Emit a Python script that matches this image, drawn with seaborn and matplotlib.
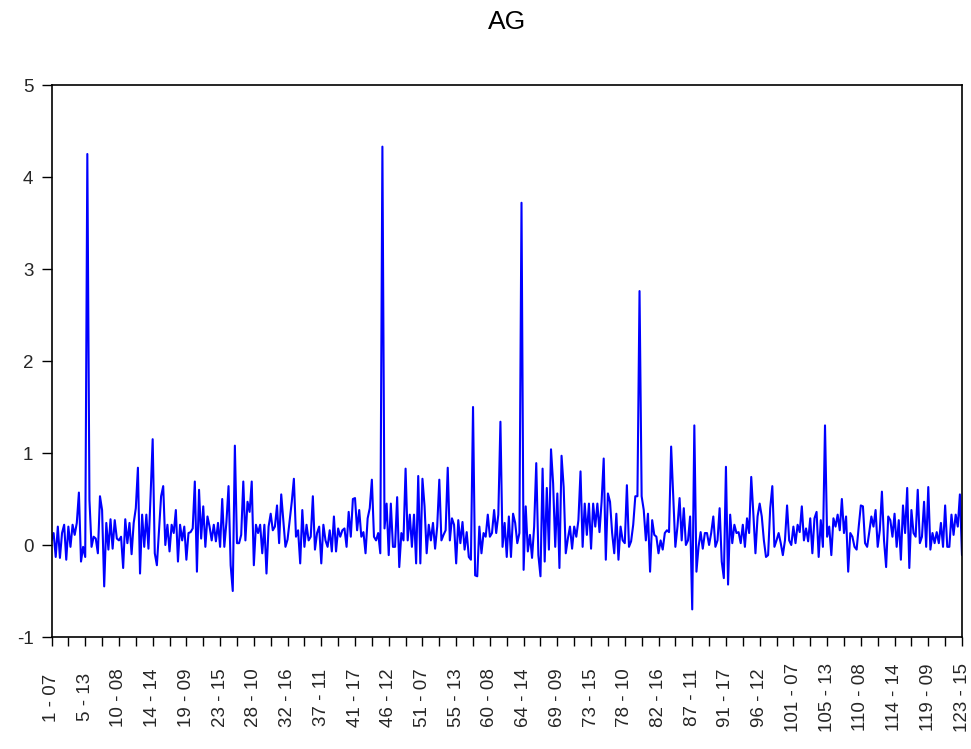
import numpy as np
import pandas as pd
import matplotlib
matplotlib.use("Agg")
import matplotlib.pyplot as plt
import seaborn as sns

title = "AG"

tick_labels = ["1 - 07", "5 - 13", "10 - 08", "14 - 14", "19 - 09", "23 - 15", "28 - 10",
               "32 - 16", "37 - 11", "41 - 17", "46 - 12", "51 - 07", "55 - 13", "60 - 08",
               "64 - 14", "69 - 09", "73 - 15", "78 - 10", "82 - 16", "87 - 11", "91 - 17",
               "96 - 12", "101 - 07", "105 - 13", "110 - 08", "114 - 14", "119 - 09", "123 - 15"]

seg1 = [0.05, 0.13, -0.13, 0.2, -0.14, 0.13, 0.22, -0.16, 0.2, -0.02,
        0.22, 0.11, 0.24, 0.57, -0.18, -0.02, -0.13, 4.25, 0.49, -0.02,
        0.09, 0.07, -0.09, 0.53, 0.38, -0.45, 0.24, -0.05, 0.28, -0.04,
        0.27, 0.07, 0.05, 0.09, -0.25, 0.28, 0.02, 0.24, -0.1, 0.24,
        0.4, 0.84, -0.31, 0.33, -0.02, 0.33, -0.04, 0.53, 1.15, -0.09,
        -0.22, 0.16, 0.53, 0.64, 0.0, 0.22, -0.07, 0.22, 0.13, 0.38,
        -0.18, 0.22, 0.05, 0.2, -0.16, 0.13, 0.14, 0.18, 0.69, -0.29,
        0.6, 0.07, 0.42, -0.02, 0.31, 0.2, 0.05, 0.22, 0.04, 0.24,
        -0.02, 0.5, -0.02, 0.25, 0.64, -0.22, -0.5, 1.08, 0.02, 0.02,
        0.11, 0.69, 0.05, 0.47, 0.36, 0.69, -0.22, 0.22, 0.13, 0.22,
        -0.09, 0.22, -0.31, 0.2, 0.34, 0.16, 0.2, 0.43, 0.02]

seg2 = [0.55, 0.27, -0.02, 0.06, 0.27, 0.47, 0.72, 0.09, 0.16, -0.2,
        0.38, -0.02, 0.22, 0.05, 0.09, 0.53, -0.05, 0.13, 0.2, -0.2,
        0.22, 0.05, -0.02, 0.16, -0.07, 0.31, -0.07, 0.18, 0.09, 0.16,
        0.18, -0.02, 0.36, 0.09, 0.5, 0.51, 0.16, 0.38, 0.09, 0.14,
        -0.09, 0.29, 0.4, 0.71, 0.09, 0.05, 0.13, -0.09, 4.33, 0.18,
        0.45, -0.11, 0.45, -0.02, -0.02, 0.52, -0.24, 0.13, 0.05, 0.83,
        0.05, 0.33, -0.02, 0.33, -0.2, 0.75, -0.2, 0.72, 0.42, -0.09,
        0.22, 0.05, 0.24, -0.04, 0.2, 0.71, 0.05, 0.11, 0.16, 0.84,
        0.05, 0.29, 0.22, -0.2, 0.27, 0.02, 0.25, -0.05, 0.14, -0.13,
        -0.16, 1.5, -0.33, -0.34, 0.2, -0.09, 0.13, 0.09, 0.33, 0.09,
        0.13, 0.38, 0.13, 0.33, 1.34, -0.02, 0.24, -0.13, 0.31, -0.13,
        0.34]

seg3 = [0.24, 0.02, 0.13, 3.72, -0.27, 0.42, -0.07, 0.11, -0.14, 0.2,
        0.89, -0.11, -0.34, 0.83, -0.18, 0.62, -0.05, 1.04, 0.67, -0.02,
        0.56, -0.25, 0.97, 0.63, -0.09, 0.07, 0.2, -0.04, 0.2, 0.09,
        0.27, 0.8, -0.02, 0.45, 0.11, 0.45, -0.04, 0.45, 0.2, 0.45,
        0.14, 0.47, 0.94, -0.16, 0.56, 0.47, 0.13, -0.09, 0.34, -0.16,
        0.2, 0.05, 0.02, 0.65, -0.02, 0.04, 0.22, 0.53, 0.53, 2.76,
        0.53, 0.38, 0.05, 0.34, -0.29, 0.27, 0.11, 0.09, -0.09, 0.05,
        -0.05, 0.13, 0.16, 0.14, 1.07, 0.53, -0.02, 0.2, 0.51, 0.05,
        0.4, 0.0, 0.05, 0.31, -0.7, 1.3, -0.29, -0.02, 0.14, -0.04,
        0.13, 0.13, 0.0, 0.13, 0.31, -0.02, 0.05, 0.4, -0.18, -0.36,
        0.85, -0.43, 0.33, 0.02, 0.22, 0.13, 0.14, 0.02, 0.22]

seg4 = [-0.02, 0.29, 0.13, 0.74, 0.34, -0.09, 0.31, 0.45, 0.31, 0.05,
        -0.13, -0.11, 0.4, 0.64, -0.02, 0.05, 0.13, 0.02, -0.11, 0.05,
        0.43, 0.05, 0.0, 0.2, 0.02, 0.22, 0.14, 0.42, 0.05, 0.18,
        0.04, 0.29, -0.09, 0.29, 0.36, -0.13, 0.27, -0.02, 1.3, 0.09,
        0.2, -0.11, 0.29, 0.2, 0.33, 0.16, 0.5, 0.13, 0.31, -0.29,
        0.13, 0.09, -0.02, -0.05, 0.2, 0.43, 0.42, 0.02, -0.02, 0.14,
        0.31, 0.2, 0.38, -0.02, 0.16, 0.58, 0.05, -0.24, 0.31, 0.27,
        0.09, 0.34, -0.02, 0.27, -0.16, 0.43, 0.13, 0.62, -0.25, 0.38,
        0.13, 0.09, 0.6, 0.02, 0.09, 0.47, -0.02, 0.63, -0.05, 0.13,
        0.02, 0.14, 0.02, 0.24, -0.02, 0.43, -0.02, -0.02, 0.33, 0.11,
        0.33, 0.2, 0.55, -0.11]

values = seg1 + seg2 + seg3 + seg4
df = pd.DataFrame({"obs": np.arange(len(values)), "AG": values})

sns.set_style("ticks")
plt.rcParams["font.family"] = ["Liberation Sans", "DejaVu Sans"]

L, R, T, B = 51.5, 962, 85, 637
fig = plt.figure(figsize=(9.71, 7.49), dpi=100)
ax = fig.add_axes([L / 971, 1 - B / 749, (R - L) / 971, (B - T) / 749])

sns.lineplot(data=df, x="obs", y="AG", ax=ax, color="#0000FF", linewidth=1.5)

n = len(values)
step = (n - 1) / (len(tick_labels) - 1)
major_pos = [i * step for i in range(len(tick_labels))]
minor_pos = [i * step + step / 2 for i in range(len(tick_labels) - 1)]
ax.set_xticks(major_pos)
ax.set_xticklabels(tick_labels, rotation=90, fontsize=13.5)
ax.set_xticks(minor_pos, minor=True)
ax.tick_params(axis="x", which="both", direction="out", length=6.5, width=1.0, color="black", pad=37)
for lab in ax.get_xticklabels():
    lab.set_va("center")
ax.tick_params(axis="y", direction="out", length=7, width=1.0, color="black", labelsize=13.5, pad=6)

ax.set_xlim(0, n - 1)
ax.set_ylim(-1, 5)
ax.set_yticks([-1, 0, 1, 2, 3, 4, 5])
ax.set_yticklabels(["-1", "0", "1", "2", "3", "4", "5"])
ax.set_xlabel("")
ax.set_ylabel("")
for s in ax.spines.values():
    s.set_visible(True)
    s.set_color("black")
    s.set_linewidth(1.2)

fig.text(507 / 971, 1 - 22 / 749, title, ha="center", va="center", fontsize=19, color="black")

fig.savefig("out.png", dpi=100)
